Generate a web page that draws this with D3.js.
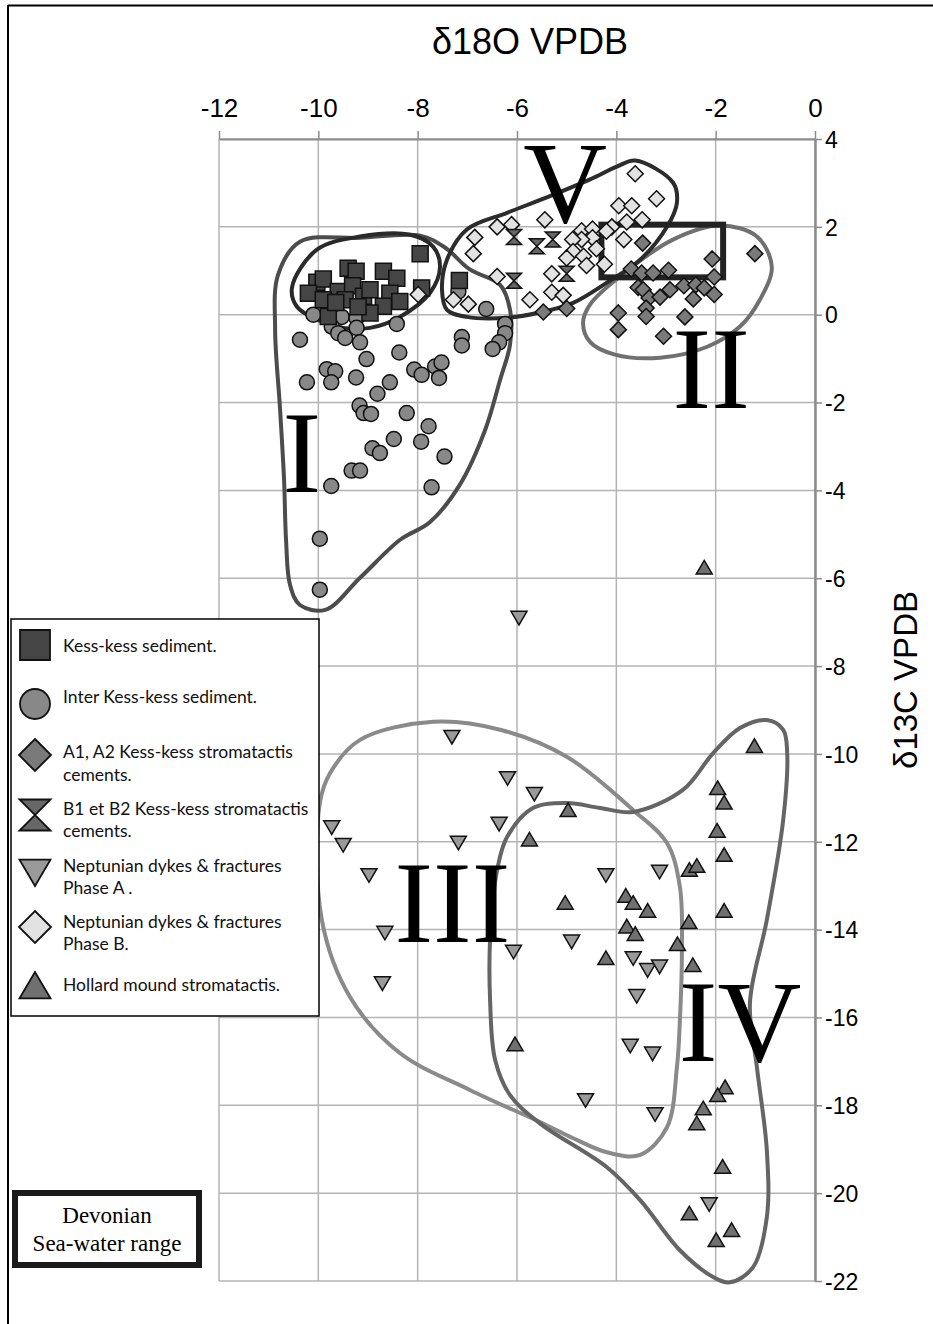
<!DOCTYPE html>
<html>
<head>
<meta charset="utf-8">
<script src="https://cdn.jsdelivr.net/npm/d3@7"></script>
<style>
  body { margin: 0; background: #fff; }
  svg { display: block; }
</style>
</head>
<body>
<div id="chart"></div>
<script>
// ---- data (δ18O, δ13C) ----
const xTicks = [-12, -10, -8, -6, -4, -2, 0];
const yTicks = [4, 2, 0, -2, -4, -6, -8, -10, -12, -14, -16, -18, -20, -22];

const kessSediment = [
  [-7.95, 1.39], [-9.40, 1.06], [-9.24, 0.99], [-8.69, 0.99], [-8.42, 0.83],
  [-10.03, 0.74], [-9.90, 0.81], [-7.92, 0.61], [-10.20, 0.49], [-9.60, 0.53],
  [-9.31, 0.66], [-9.09, 0.42], [-9.46, 0.34], [-8.56, 0.49], [-8.36, 0.30],
  [-8.69, 0.19], [-8.96, 0.04], [-9.80, -0.04], [-9.90, 0.34], [-8.96, 0.57],
  [-7.16, 0.78], [-9.65, 0.28], [-9.20, 0.18]
];

const interKessSediment = [
  [-10.10, 0.00], [-9.53, -0.05], [-9.23, -0.08], [-9.23, -0.30], [-9.73, -0.27],
  [-9.60, -0.42], [-9.46, -0.53], [-9.16, -0.63], [-8.42, -0.21], [-10.37, -0.57],
  [-9.03, -1.01], [-8.37, -0.86], [-9.83, -1.24], [-9.66, -1.29], [-9.74, -1.54],
  [-10.23, -1.54], [-9.24, -1.43], [-8.56, -1.54], [-8.81, -1.80], [-8.07, -1.25],
  [-7.92, -1.37], [-7.65, -1.18], [-7.52, -1.09], [-7.57, -1.44], [-7.11, -0.51],
  [-7.11, -0.70], [-6.62, 0.13], [-6.24, -0.21], [-6.24, -0.42], [-6.36, -0.63],
  [-6.49, -0.78], [-9.17, -2.07], [-9.09, -2.24], [-8.94, -2.26], [-8.22, -2.24],
  [-7.78, -2.54], [-7.18, 0.53], [-8.48, -2.83], [-7.93, -2.89], [-8.91, -3.04],
  [-8.76, -3.15], [-7.46, -3.23], [-9.33, -3.55], [-9.16, -3.55], [-9.74, -3.90],
  [-7.72, -3.93], [-9.97, -5.10], [-9.97, -6.26]
];

const a1a2Cements = [
  [-3.47, 1.63], [-2.07, 1.27], [-3.70, 1.04], [-3.49, 0.95], [-3.26, 0.95],
  [-2.95, 1.01], [-2.03, 0.86], [-3.56, 0.62], [-3.46, 0.57], [-3.34, 0.38],
  [-3.12, 0.40], [-2.92, 0.57], [-2.64, 0.66], [-2.40, 0.68], [-2.23, 0.61],
  [-2.45, 0.36], [-2.03, 0.46], [-3.40, 0.15], [-3.40, -0.04], [-3.96, 0.04],
  [-3.96, -0.34], [-2.62, -0.05], [-3.05, -0.49], [-5.00, 0.14], [-5.47, 0.06],
  [-1.21, 1.39]
];

const b1b2Cements = [
  [-6.06, 1.77], [-5.60, 1.56], [-5.28, 1.71], [-6.06, 0.77], [-5.00, 0.93]
];

const phaseA = [
  [-5.96, -6.90], [-7.31, -9.61], [-6.19, -10.55], [-5.65, -10.91], [-9.73, -11.67],
  [-9.50, -12.07], [-6.36, -11.59], [-7.18, -12.02], [-8.98, -12.76], [-8.66, -14.07],
  [-6.07, -14.50], [-8.71, -15.22], [-4.90, -14.27], [-4.21, -12.76], [-3.13, -12.68],
  [-3.66, -14.65], [-3.37, -14.92], [-3.13, -14.84], [-3.59, -15.51], [-3.72, -16.64],
  [-3.27, -16.82], [-4.62, -17.88], [-3.22, -18.20], [-2.13, -20.25]
];

const phaseB = [
  [-3.62, 3.21], [-3.19, 2.64], [-3.95, 2.48], [-3.69, 2.48], [-5.44, 2.16],
  [-6.40, 2.00], [-6.11, 2.05], [-6.85, 1.76], [-6.88, 1.39], [-3.79, 2.11],
  [-3.48, 2.16], [-4.09, 2.00], [-4.70, 1.91], [-4.48, 1.95], [-4.48, 1.75],
  [-4.70, 1.71], [-4.88, 1.71], [-3.85, 1.71], [-4.87, 1.44], [-5.00, 1.29],
  [-4.66, 1.33], [-4.60, 1.12], [-4.24, 1.15], [-5.30, 0.93], [-6.40, 0.87],
  [-5.30, 0.51], [-5.07, 0.44], [-5.74, 0.34], [-7.28, 0.34], [-6.98, 0.24],
  [-7.99, 0.46], [-4.40, 1.50], [-4.20, 1.90]
];

const hollardMound = [
  [-2.23, -5.76], [-4.97, -11.28], [-5.75, -11.95], [-5.03, -13.39], [-6.04, -16.61],
  [-1.22, -9.82], [-1.96, -10.78], [-1.83, -11.11], [-1.97, -11.75], [-1.83, -12.30],
  [-2.53, -12.64], [-2.38, -12.55], [-3.81, -13.23], [-3.66, -13.39], [-3.37, -13.57],
  [-1.83, -13.57], [-3.79, -13.93], [-3.62, -14.10], [-2.54, -13.83], [-2.77, -14.33],
  [-4.21, -14.65], [-2.46, -14.81], [-1.81, -17.59], [-1.96, -17.77], [-2.25, -18.07],
  [-2.38, -18.41], [-1.86, -19.40], [-2.53, -20.46], [-1.68, -20.84], [-1.99, -21.07]
];

// hand-drawn group envelopes
const envelopeI = [
  [-10.37, 1.66], [-9.16, 1.75], [-7.95, 1.80], [-7.45, 1.53], [-6.95, 1.03],
  [-6.34, 0.68], [-6.14, 0.11], [-6.14, -0.68], [-6.34, -1.48], [-6.64, -2.62],
  [-7.15, -3.87], [-7.75, -4.72], [-8.36, -5.13], [-9.16, -5.99], [-9.86, -6.72],
  [-10.37, -6.61], [-10.57, -6.15], [-10.65, -5.13], [-10.69, -3.76], [-10.77, -2.16],
  [-10.87, -0.34], [-10.81, 0.91]
];
const envelopeKess = [
  [-10.53, 0.62], [-10.03, 1.48], [-9.16, 1.78], [-8.15, 1.82], [-7.69, 1.55],
  [-7.55, 1.09], [-7.75, 0.50], [-8.36, -0.05], [-8.96, -0.30], [-9.50, -0.30],
  [-10.03, -0.11], [-10.43, 0.18]
];
const envelopeV = [
  [-3.62, 3.51], [-2.86, 3.01], [-2.78, 2.55], [-2.98, 2.00], [-3.52, 1.25],
  [-4.19, 0.73], [-4.87, 0.27], [-5.54, 0.05], [-6.20, -0.07], [-7.01, -0.05],
  [-7.41, 0.11], [-7.51, 0.57], [-7.41, 1.25], [-7.01, 1.94], [-6.20, 2.32],
  [-5.40, 2.67], [-4.53, 3.08], [-3.99, 3.37]
];
const envelopeII = [
  [-4.67, -0.18], [-4.53, 0.23], [-3.93, 0.87], [-2.86, 1.71], [-1.91, 2.03],
  [-1.17, 1.78], [-0.87, 1.09], [-1.11, 0.34], [-1.51, -0.27], [-2.17, -0.73],
  [-3.12, -0.98], [-4.03, -0.91], [-4.53, -0.62]
];
const envelopeIII = [
  [-7.69, -9.27], [-6.34, -9.45], [-4.99, -10.07], [-3.66, -11.28], [-2.98, -12.03],
  [-2.72, -13.03], [-2.68, -14.53], [-2.72, -16.06], [-2.78, -17.13], [-2.98, -18.50],
  [-3.52, -19.13], [-4.19, -19.07], [-4.87, -18.75], [-5.54, -18.38], [-6.95, -17.65],
  [-8.36, -16.81], [-9.36, -15.54], [-9.93, -13.78], [-9.97, -11.12], [-9.76, -10.43],
  [-9.16, -9.68]
];
const envelopeIV = [
  [-0.97, -9.23], [-0.64, -9.45], [-0.56, -9.98], [-0.64, -11.50], [-0.97, -13.78],
  [-1.31, -15.67], [-1.17, -17.13], [-0.97, -19.02], [-0.97, -20.55], [-1.25, -21.69],
  [-1.71, -22.03], [-2.05, -21.91], [-2.72, -21.30], [-3.52, -20.16], [-4.19, -19.41],
  [-5.54, -18.41], [-6.14, -17.77], [-6.44, -16.97], [-6.54, -15.67], [-6.54, -14.17],
  [-6.40, -12.64], [-6.20, -11.89], [-5.68, -11.23], [-4.99, -11.12], [-4.33, -11.23],
  [-3.66, -11.32], [-2.66, -10.82], [-2.05, -9.98], [-1.51, -9.41]
];

// Devonian sea-water box (δ18O range, δ13C range)
const seaWaterX = [-4.3, -1.85];
const seaWaterY = [0.85, 2.05];

const groupLabels = ['I', 'II', 'III', 'IV', 'V'];
const groupLabelPos = [[-10.33, -4.03], [-2.09, -2.12], [-7.30, -14.28], [-1.51, -16.99], [-5.03, 2.12]];

const legendNames = [
  ['Kess-kess sediment.'],
  ['Inter Kess-kess sediment.'],
  ['A1, A2 Kess-kess stromatactis', 'cements.'],
  ['B1 et B2 Kess-kess stromatactis', 'cements.'],
  ['Neptunian dykes & fractures', 'Phase A .'],
  ['Neptunian dykes & fractures', 'Phase B.'],
  ['Hollard mound stromatactis.']
];

// ---- setup ----
const width = 933, height = 1324;
const svg = d3.select('#chart').append('svg')
  .attr('width', width)
  .attr('height', height);

const x = d3.scaleLinear().domain([-12, 0]).range([219, 815]);
const y = d3.scaleLinear().domain([4, -22]).range([139, 1281]);

const sans = "'Liberation Sans', Arial, sans-serif";
const serif = "'Liberation Serif', 'Times New Roman', 'DejaVu Serif', serif";
const legendFont = "Lato, 'Noto Sans', sans-serif";

// figure frame (top and left edges visible)
svg.append('line').attr('x1', 8).attr('x2', width).attr('y1', 5.5).attr('y2', 5.5)
  .style('stroke', '#000').style('stroke-width', 2);
svg.append('line').attr('x1', 8).attr('x2', 8).attr('y1', 5).attr('y2', height)
  .style('stroke', '#000').style('stroke-width', 2);

// grid
const grid = svg.append('g').attr('class', 'grid');
grid.selectAll('.vgrid').data(xTicks).enter().append('line')
  .attr('x1', d => x(d)).attr('x2', d => x(d))
  .attr('y1', y(4)).attr('y2', y(-22))
  .style('stroke', '#b4b4b4').style('stroke-width', 1.5);
grid.selectAll('.hgrid').data(yTicks).enter().append('line')
  .attr('x1', x(-12)).attr('x2', x(0))
  .attr('y1', d => y(d)).attr('y2', d => y(d))
  .style('stroke', '#b4b4b4').style('stroke-width', 1.5);

// axes (plain hyphen minus, as in the original)
const fmt = d => String(d);
const xAxis = svg.append('g')
  .attr('transform', `translate(0,${y(4)})`)
  .call(d3.axisTop(x).tickValues(xTicks).tickFormat(fmt).tickSize(8).tickPadding(14).tickSizeOuter(0));
xAxis.select('.domain').style('stroke', '#8c8c8c').style('stroke-width', 2);
xAxis.selectAll('.tick line').style('stroke', '#8c8c8c').style('stroke-width', 1.5);
xAxis.selectAll('.tick text')
  .style('font-family', sans).style('font-size', '26px').style('fill', '#000');

const yAxis = svg.append('g')
  .attr('transform', `translate(${x(0)},0)`)
  .call(d3.axisRight(y).tickValues(yTicks).tickFormat(fmt).tickSize(7).tickPadding(3).tickSizeOuter(0));
yAxis.select('.domain').style('stroke', '#8c8c8c').style('stroke-width', 2.5);
yAxis.selectAll('.tick line').style('stroke', '#8c8c8c').style('stroke-width', 1.5);
yAxis.selectAll('.tick text')
  .style('font-family', sans).style('font-size', '23px')
  .style('fill', '#000').attr('dy', '0.36em');

svg.append('text')
  .attr('x', 530).attr('y', 54)
  .attr('text-anchor', 'middle')
  .style('font-family', sans).style('font-size', '36px')
  .text('δ18O VPDB');

svg.append('text')
  .attr('transform', 'translate(917,680) rotate(-90)')
  .attr('text-anchor', 'middle')
  .style('font-family', sans).style('font-size', '33px')
  .text('δ13C VPDB');

// envelopes
const outline = d3.line()
  .x(d => x(d[0])).y(d => y(d[1]))
  .curve(d3.curveCatmullRomClosed.alpha(0.5));

const envelopes = [
  { pts: envelopeIII, color: '#8a8a8a' },
  { pts: envelopeIV, color: '#656565' },
  { pts: envelopeII, color: '#707070' },
  { pts: envelopeI, color: '#4c4c4c' },
  { pts: envelopeV, color: '#2c2c2c' },
  { pts: envelopeKess, color: '#2a2a2a' }
];
svg.selectAll('.envelope').data(envelopes).enter().append('path')
  .attr('class', 'envelope')
  .attr('d', d => outline(d.pts))
  .style('fill', 'none')
  .style('stroke', d => d.color)
  .style('stroke-width', 4);

svg.append('rect')
  .attr('x', x(seaWaterX[0])).attr('y', y(seaWaterY[1]))
  .attr('width', x(seaWaterX[1]) - x(seaWaterX[0]))
  .attr('height', y(seaWaterY[0]) - y(seaWaterY[1]))
  .style('fill', 'none').style('stroke', '#222').style('stroke-width', 6);

// marker shapes
function markerPath(type, s) {
  const h = s / 2;
  switch (type) {
    case 'square': return `M${-h},${-h}H${h}V${h}H${-h}Z`;
    case 'circle': return d3.arc()({ innerRadius: 0, outerRadius: h, startAngle: 0, endAngle: 2 * Math.PI });
    case 'diamond': return `M0,${-h}L${h},0L0,${h}L${-h},0Z`;
    case 'hourglass': return `M${-h},${-h}L${h},${-h}L${-h},${h}L${h},${h}Z`;
    case 'down': return `M${-h},${-h * 0.8}L${h},${-h * 0.8}L0,${h * 0.9}Z`;
    case 'up': return `M${-h},${h * 0.8}L${h},${h * 0.8}L0,${-h * 0.9}Z`;
  }
}

const series = [
  { data: kessSediment, type: 'square', size: 16, fill: '#454545', legSize: 30 },
  { data: interKessSediment, type: 'circle', size: 15, fill: '#888888', legSize: 30 },
  { data: a1a2Cements, type: 'diamond', size: 16, fill: '#7a7a7a', legSize: 32 },
  { data: b1b2Cements, type: 'hourglass', size: 15, fill: '#676767', legSize: 31 },
  { data: phaseA, type: 'down', size: 16, fill: '#9a9a9a', legSize: 31 },
  { data: phaseB, type: 'diamond', size: 16, fill: '#e2e2e2', legSize: 32 },
  { data: hollardMound, type: 'up', size: 16, fill: '#707070', legSize: 31 }
];

const drawOrder = [1, 0, 5, 2, 3, 4, 6];
drawOrder.forEach(i => {
  const s = series[i];
  svg.append('g').selectAll('path').data(s.data).enter().append('path')
    .attr('transform', d => `translate(${x(d[0])},${y(d[1])})`)
    .attr('d', markerPath(s.type, s.size))
    .style('fill', s.fill)
    .style('stroke', '#111')
    .style('stroke-width', 1.5);
});

// roman numerals
svg.selectAll('.group-label').data(groupLabels).enter().append('text')
  .attr('class', 'group-label')
  .attr('x', (d, i) => x(groupLabelPos[i][0]))
  .attr('y', (d, i) => y(groupLabelPos[i][1]))
  .attr('text-anchor', 'middle')
  .style('font-family', serif)
  .style('font-size', '116px')
  .style('fill', '#000')
  .text(d => d);

// legend
const legend = svg.append('g').attr('class', 'legend');
legend.append('rect')
  .attr('x', 11).attr('y', 619).attr('width', 308).attr('height', 397)
  .style('fill', '#fff').style('stroke', '#000').style('stroke-width', 1.5);

const legendY = [645, 704, 755, 815, 872, 927, 986];
const legendTextY = [[652], [703], [758, 781], [815, 837], [872, 894], [928, 950], [991]];
series.forEach((s, i) => {
  legend.append('path')
    .attr('transform', `translate(35,${legendY[i]})`)
    .attr('d', markerPath(s.type, s.legSize))
    .style('fill', s.fill)
    .style('stroke', '#111')
    .style('stroke-width', 1.8);
  legendNames[i].forEach((line, j) => {
    legend.append('text')
      .attr('x', 63).attr('y', legendTextY[i][j])
      .style('font-family', legendFont)
      .style('font-size', '17.5px')
      .style('fill', '#111')
      .text(line);
  });
});

// sea-water key
svg.append('rect')
  .attr('x', 15).attr('y', 1193).attr('width', 184).attr('height', 72)
  .style('fill', '#fff').style('stroke', '#1a1a1a').style('stroke-width', 6);
svg.append('text')
  .attr('x', 107).attr('y', 1223).attr('text-anchor', 'middle')
  .style('font-family', serif).style('font-size', '23px')
  .text('Devonian');
svg.append('text')
  .attr('x', 107).attr('y', 1251).attr('text-anchor', 'middle')
  .style('font-family', serif).style('font-size', '23px')
  .text('Sea-water range');
</script>
</body>
</html>
